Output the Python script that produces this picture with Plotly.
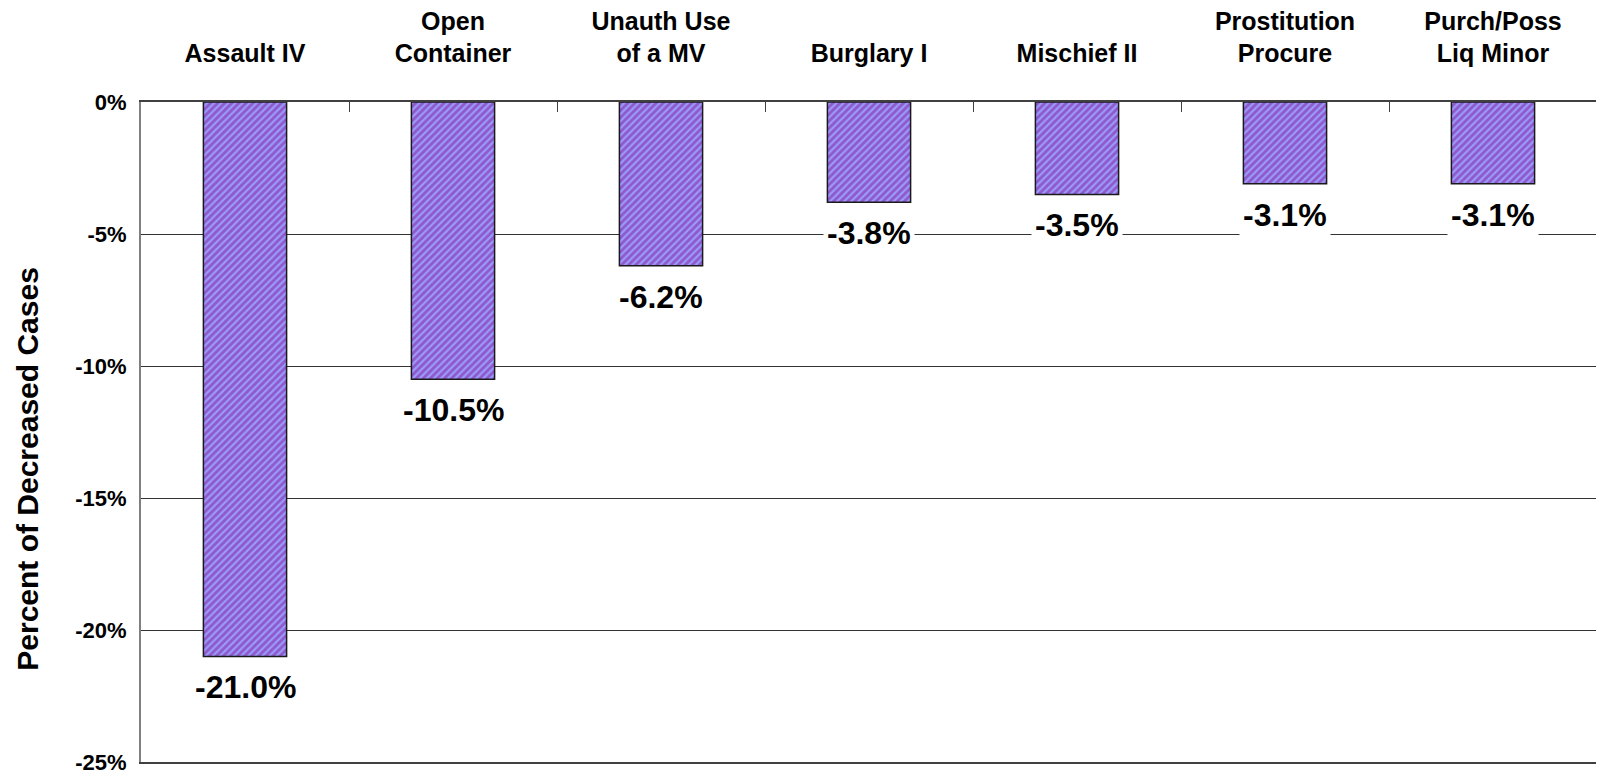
import plotly.graph_objects as go

categories = ["Assault IV", "Open<br>Container", "Unauth Use<br>of a MV", "Burglary I",
              "Mischief II", "Prostitution<br>Procure", "Purch/Poss<br>Liq Minor"]
pct_change = [-21.0, -10.5, -6.2, -3.8, -3.5, -3.1, -3.1]
y_ticks = [0, -5, -10, -15, -20, -25]
y_tick_text = ["0%", "-5%", "-10%", "-15%", "-20%", "-25%"]

FONT = "Liberation Sans, Arial, sans-serif"

fig = go.Figure()

fig.add_trace(go.Bar(
    x=categories,
    y=pct_change,
    width=0.4,
    marker=dict(
        color="#9999ff",
        line=dict(color="#1a1a1a", width=1.5),
        pattern=dict(shape="/", bgcolor="#9999ff", fgcolor="#86198f",
                     size=5, solidity=0.55, fillmode="overlay"),
    ),
    showlegend=False,
    hoverinfo="skip",
))

# value labels below each bar, white box cuts the gridlines
for cat, val in zip(categories, pct_change):
    fig.add_annotation(
        x=cat, y=val, xref="x", yref="y",
        text="<b>%.1f%%</b>" % val,
        showarrow=False, yshift=-31, yanchor="middle",
        font=dict(family=FONT, size=32, color="black"),
        bgcolor="white", borderpad=3,
    )

fig.add_annotation(
    x=-0.078, y=0.445, xref="paper", yref="paper",
    xanchor="center", yanchor="middle",
    text="<b>Percent of Decreased Cases</b>",
    textangle=-90, showarrow=False,
    font=dict(family=FONT, size=30, color="black"),
)

# right border
fig.add_shape(type="line", xref="paper", yref="paper", x0=1, x1=1, y0=0, y1=1,
              line=dict(color="black", width=2))

fig.update_xaxes(
    side="top",
    automargin=False,
    showgrid=False,
    showline=True, linecolor="#404040", linewidth=1.5,
    mirror=True,
    ticks="inside", ticklen=10, tickcolor="#404040", tickson="boundaries",
    tickfont=dict(family=FONT, size=25, color="black"),
    ticklabelstandoff=28,
    tickprefix="<b>", ticksuffix="</b>",
)

fig.update_yaxes(
    range=[-25, 0],
    automargin=False,
    tickvals=y_ticks, ticktext=["<b>%s</b>" % t for t in y_tick_text],
    tickfont=dict(family=FONT, size=22, color="black"),
    ticklabeloverflow="allow",
    showgrid=True, gridcolor="#333333", gridwidth=1,
    zeroline=False,
    showline=True, linecolor="#808080", linewidth=2, mirror=True,
    ticks="", ticklabelstandoff=8,
)

# page body has an 8px margin, so the figure is a bit smaller than the window
fig.update_layout(
    width=1596, height=769,
    margin=dict(l=133, r=7, t=94, b=15),
    plot_bgcolor="white", paper_bgcolor="white",
    bargap=0.6,
)

fig.write_html("out.html")
